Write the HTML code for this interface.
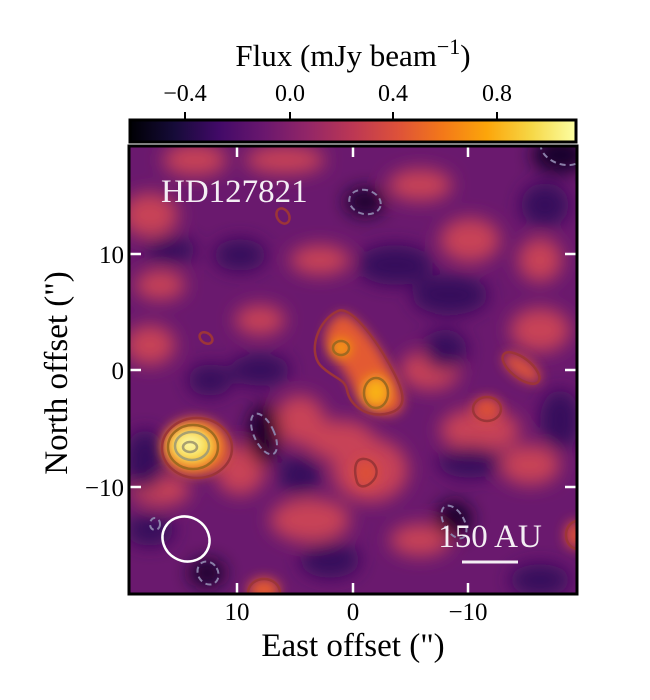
<!DOCTYPE html>
<html><head><meta charset="utf-8"><style>
html,body{margin:0;padding:0;background:#fff;}
svg{display:block;font-family:"Liberation Serif",serif;}
</style></head><body>
<svg width="650" height="700" viewBox="0 0 650 700" xmlns="http://www.w3.org/2000/svg">
<defs>
<linearGradient id="cb" x1="0" x2="1" y1="0" y2="0">
<stop offset="0" stop-color="#000004"/><stop offset="0.1" stop-color="#160b39"/>
<stop offset="0.2" stop-color="#420a68"/><stop offset="0.3" stop-color="#6a176e"/>
<stop offset="0.4" stop-color="#932667"/><stop offset="0.5" stop-color="#bc3754"/>
<stop offset="0.6" stop-color="#dd513a"/><stop offset="0.7" stop-color="#f37819"/>
<stop offset="0.8" stop-color="#fca50a"/><stop offset="0.9" stop-color="#f6d746"/>
<stop offset="1" stop-color="#fcffa4"/>
</linearGradient>
<filter id="b1" x="-50%" y="-50%" width="200%" height="200%"><feGaussianBlur stdDeviation="9"/></filter>
<filter id="b2" x="-50%" y="-50%" width="200%" height="200%"><feGaussianBlur stdDeviation="6"/></filter>
<clipPath id="mc"><rect x="129" y="146" width="448" height="448"/></clipPath>
</defs>

<text x="353" y="66" font-size="31" text-anchor="middle">Flux (mJy beam<tspan dy="-12" font-size="22">−1</tspan><tspan dy="12">)</tspan></text>
<g font-size="24" text-anchor="middle">
<text x="185" y="101">−0.4</text><text x="290" y="101">0.0</text>
<text x="393" y="101">0.4</text><text x="497" y="101">0.8</text>
</g>
<g stroke="#000" stroke-width="2">
<line x1="185" y1="112" x2="185" y2="119"/><line x1="290" y1="112" x2="290" y2="119"/>
<line x1="393" y1="112" x2="393" y2="119"/><line x1="497" y1="112" x2="497" y2="119"/>
</g>
<rect x="130" y="120" width="446" height="22" fill="url(#cb)" stroke="#000" stroke-width="3"/>

<g clip-path="url(#mc)">
<rect x="129" y="146" width="448" height="448" fill="#6a196e"/>
<g filter="url(#b1)">
<g fill="#c84356">
<ellipse cx="150" cy="215" rx="28" ry="22"/>
<ellipse cx="195" cy="160" rx="32" ry="16"/>
<ellipse cx="285" cy="160" rx="40" ry="14"/>
<ellipse cx="420" cy="185" rx="32" ry="16"/>
<ellipse cx="470" cy="240" rx="30" ry="22"/>
<ellipse cx="540" cy="260" rx="22" ry="22"/>
<ellipse cx="160" cy="285" rx="25" ry="15"/>
<ellipse cx="150" cy="345" rx="25" ry="20"/>
<ellipse cx="260" cy="320" rx="25" ry="15"/>
<ellipse cx="540" cy="330" rx="30" ry="22"/>
<ellipse cx="300" cy="420" rx="25" ry="25"/>
<ellipse cx="430" cy="370" rx="30" ry="20"/>
<ellipse cx="480" cy="430" rx="40" ry="22"/>
<ellipse cx="370" cy="470" rx="38" ry="32"/>
<ellipse cx="530" cy="465" rx="30" ry="20"/>
<ellipse cx="310" cy="520" rx="40" ry="22"/>
<ellipse cx="420" cy="540" rx="30" ry="16"/>
<ellipse cx="160" cy="490" rx="30" ry="16"/>
<ellipse cx="240" cy="470" rx="25" ry="25"/>
<ellipse cx="320" cy="260" rx="30" ry="15"/>
<ellipse cx="340" cy="440" rx="35" ry="20"/>
</g>
<g fill="#12052a">
<ellipse cx="365" cy="202" rx="20" ry="14"/>
<ellipse cx="264" cy="434" rx="16" ry="30"/>
<ellipse cx="454" cy="519" rx="18" ry="18"/>
<ellipse cx="207" cy="573" rx="18" ry="14"/>
<ellipse cx="560" cy="155" rx="28" ry="18"/>
</g>
<g fill="#34085c">
<ellipse cx="240" cy="255" rx="26" ry="16"/>
<ellipse cx="395" cy="265" rx="38" ry="20"/>
<ellipse cx="170" cy="250" rx="26" ry="14"/>
<ellipse cx="450" cy="295" rx="38" ry="20"/>
<ellipse cx="445" cy="350" rx="22" ry="20"/>
<ellipse cx="470" cy="462" rx="32" ry="16"/>
<ellipse cx="145" cy="460" rx="20" ry="30"/>
<ellipse cx="560" cy="420" rx="20" ry="30"/>
<ellipse cx="330" cy="560" rx="30" ry="18"/>
<ellipse cx="540" cy="580" rx="30" ry="16"/>
<ellipse cx="150" cy="530" rx="24" ry="16"/>
<ellipse cx="260" cy="370" rx="30" ry="16"/>
<ellipse cx="545" cy="205" rx="24" ry="22"/>
<ellipse cx="210" cy="380" rx="22" ry="16"/>
<ellipse cx="300" cy="475" rx="22" ry="20"/>
</g>
</g>
<g filter="url(#b2)">
<path d="M338 315 C350 305 385 350 400 390 C410 410 395 420 375 412 C350 400 355 380 335 360 C318 340 325 325 338 315Z" fill="#e35a33"/>
<ellipse cx="522" cy="368" rx="22" ry="10" transform="rotate(35 522 368)" fill="#d8513d"/>
<ellipse cx="487" cy="409" rx="14" ry="12" fill="#dc5039"/>
<ellipse cx="366" cy="473" rx="12" ry="14" fill="#dc5039"/>
<ellipse cx="264" cy="590" rx="16" ry="12" fill="#e45a33"/>
<ellipse cx="575" cy="535" rx="10" ry="14" fill="#dc5039"/>
<ellipse cx="195" cy="447" rx="34" ry="29" fill="#ee6a25"/>
</g>
<ellipse cx="376" cy="392" rx="14" ry="16" fill="#f9b116" filter="url(#b2)"/>
<ellipse cx="341" cy="348" rx="10" ry="9" fill="#f8a010" filter="url(#b2)"/>
<ellipse cx="192" cy="446" rx="24" ry="19" fill="#f8d640" filter="url(#b2)"/>
<ellipse cx="190" cy="444" rx="14" ry="11" fill="#fbf5a0" filter="url(#b2)"/>

<g fill="none" stroke="#9c3538" stroke-width="2.5">
<path d="M338 311 C352 305 380 345 395 375 C405 395 408 410 385 414 C365 417 350 405 347 390 C345 378 332 378 320 365 C308 350 318 320 338 311Z"/>
<ellipse cx="521" cy="368" rx="22" ry="10" transform="rotate(38 521 368)"/>
<ellipse cx="487" cy="409" rx="14" ry="12"/>
<path d="M362 459 C372 458 380 468 375 478 C370 486 360 490 357 482 C354 472 354 460 362 459Z"/>
<ellipse cx="206" cy="338" rx="7" ry="5" transform="rotate(35 206 338)"/>
<ellipse cx="283" cy="216" rx="6" ry="8" transform="rotate(-30 283 216)"/>
<ellipse cx="264" cy="593" rx="16" ry="14"/>
<ellipse cx="578" cy="535" rx="12" ry="14"/>
<ellipse cx="197" cy="448" rx="35" ry="30"/>
</g>
<g fill="none" stroke-width="2.5">
<ellipse cx="341" cy="348" rx="8" ry="7" stroke="#a06a20"/>
<ellipse cx="376" cy="393" rx="12" ry="15" stroke="#a06a20"/>
<ellipse cx="193" cy="447" rx="25" ry="22" stroke="#a06a20"/>
<ellipse cx="192" cy="446" rx="17" ry="14" stroke="#a8a070"/>
<ellipse cx="190" cy="447" rx="7" ry="5" stroke="#a8a070"/>
</g>
<g fill="none" stroke="#8a7fa8" stroke-width="2" stroke-dasharray="6,4">
<ellipse cx="365" cy="202" rx="16" ry="12" transform="rotate(15 365 202)"/>
<ellipse cx="264" cy="434" rx="10" ry="22" transform="rotate(-25 264 434)"/>
<ellipse cx="454" cy="522" rx="10" ry="18" transform="rotate(-30 454 522)"/>
<ellipse cx="208" cy="573" rx="10" ry="12" transform="rotate(-30 208 573)"/>
<ellipse cx="155" cy="524" rx="5" ry="6"/>
<ellipse cx="562" cy="150" rx="22" ry="14" transform="rotate(20 562 150)"/>
</g>
</g>
<text x="161" y="202" font-size="33" fill="#f4eef4">HD127821</text>
<text x="490" y="547" font-size="33" fill="#f4eef4" text-anchor="middle">150 AU</text>
<line x1="462" y1="562" x2="518" y2="562" stroke="#f4eef4" stroke-width="3"/>
<ellipse cx="186" cy="539" rx="24" ry="22" transform="rotate(30 186 539)" fill="none" stroke="#fff" stroke-width="2.5"/>
<g stroke="#fff" stroke-width="2.5">
<line x1="237" y1="147" x2="237" y2="157"/><line x1="353" y1="147" x2="353" y2="157"/><line x1="468" y1="147" x2="468" y2="157"/>
<line x1="237" y1="593" x2="237" y2="583"/><line x1="353" y1="593" x2="353" y2="583"/><line x1="468" y1="593" x2="468" y2="583"/>
<line x1="130" y1="254" x2="141" y2="254"/><line x1="130" y1="370" x2="141" y2="370"/><line x1="130" y1="487" x2="141" y2="487"/>
<line x1="576" y1="254" x2="565" y2="254"/><line x1="576" y1="370" x2="565" y2="370"/><line x1="576" y1="487" x2="565" y2="487"/>
</g>
<rect x="129" y="146" width="448" height="448" fill="none" stroke="#000" stroke-width="3"/>
<line x1="129" y1="144" x2="577" y2="144" stroke="#fff" stroke-width="1"/>
<g font-size="25">
<text x="237" y="620" text-anchor="middle">10</text>
<text x="353" y="620" text-anchor="middle">0</text>
<text x="468" y="620" text-anchor="middle">−10</text>
<text x="124" y="263" text-anchor="end">10</text>
<text x="124" y="379" text-anchor="end">0</text>
<text x="124" y="496" text-anchor="end">−10</text>
</g>
<text x="353" y="656" font-size="33" text-anchor="middle">East offset (")</text>
<text x="0" y="0" font-size="33" text-anchor="middle" transform="translate(67 373) rotate(-90)">North offset (")</text>
</svg>
</body></html>
